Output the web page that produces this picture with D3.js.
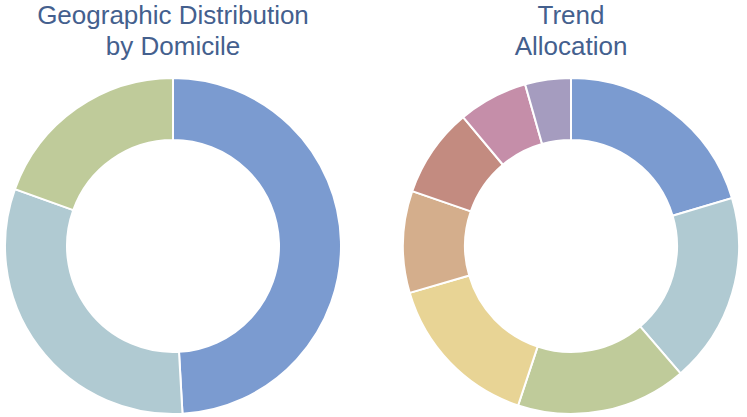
<!DOCTYPE html>
<html>
<head>
<meta charset="utf-8">
<script src="https://cdn.jsdelivr.net/npm/d3@7"></script>
<style>
  html, body { margin: 0; padding: 0; background: #ffffff; }
  svg { display: block; }
</style>
</head>
<body>
<svg id="chart" width="747" height="417"></svg>
<script>
// Geographic distribution by domicile (percent)
const geoLabels = ["Region A", "Region B", "Region C"];
const geoValues = [49.1, 31.4, 19.5];
const geoColors = ["#7b9bd0", "#b0cad2", "#bfcb9a"];

// Trend allocation (percent)
const trendLabels = ["Trend 1", "Trend 2", "Trend 3", "Trend 4", "Trend 5", "Trend 6", "Trend 7", "Trend 8"];
const trendValues = [20.4, 18.3, 16.4, 15.4, 9.8, 8.6, 6.7, 4.4];
const trendColors = ["#7b9bd0", "#b0cad2", "#bfcb9a", "#e8d495", "#d4ae8c", "#c38b80", "#c58ea9", "#a59cbf"];

const titles = [
  ["Geographic Distribution", "by Domicile"],
  ["Trend", "Allocation"]
];

const svg = d3.select("#chart");
const outerR = 168, innerR = 106;

const pie = d3.pie().sort(null).value(d => d.value);
const arc = d3.arc().innerRadius(innerR).outerRadius(outerR);

function donut(cx, cy, labels, values, colors, title) {
  const g = svg.append("g").attr("transform", `translate(${cx},${cy})`);
  const data = labels.map((l, i) => ({ label: l, value: values[i], color: colors[i] }));
  g.selectAll("path")
    .data(pie(data))
    .join("path")
    .attr("d", arc)
    .attr("fill", d => d.data.color)
    .attr("stroke", "#ffffff")
    .attr("stroke-width", 2);

  const t = svg.append("text")
    .attr("x", cx)
    .attr("y", 24)
    .attr("text-anchor", "middle")
    .attr("font-family", "'Liberation Sans', Arial, sans-serif")
    .attr("font-size", 26)
    .attr("fill", "#44608e");
  title.forEach((line, i) => {
    t.append("tspan").attr("x", cx).attr("dy", i === 0 ? 0 : 31).text(line);
  });
}

donut(173, 246, geoLabels, geoValues, geoColors, titles[0]);
donut(571, 246, trendLabels, trendValues, trendColors, titles[1]);
</script>
</body>
</html>
